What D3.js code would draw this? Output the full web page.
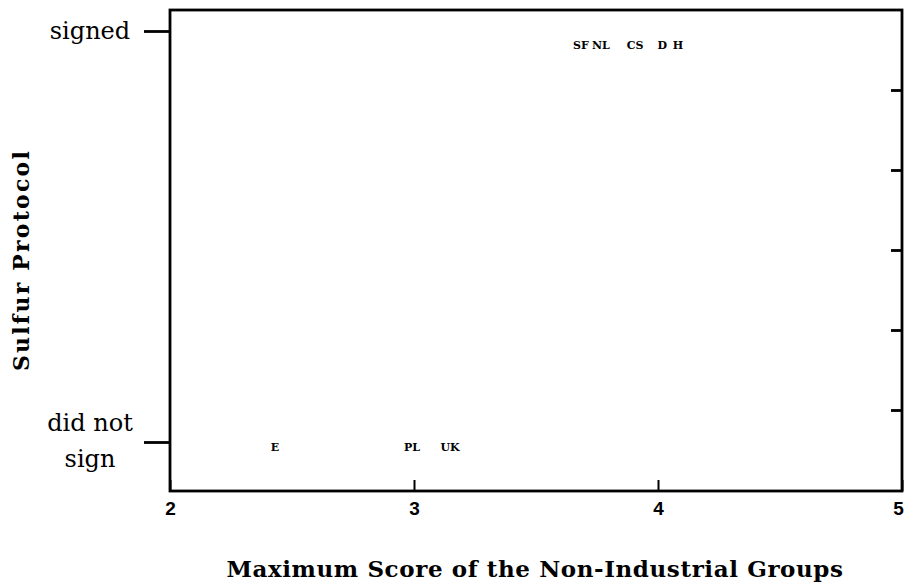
<!DOCTYPE html>
<html>
<head>
<meta charset="utf-8">
<script src="https://cdn.jsdelivr.net/npm/d3@7"></script>
<style>
  body { margin: 0; background: #fff; }
  svg { display: block; }
</style>
</head>
<body>
<script>
"use strict";

// countries and their maximum non-industrial score
const signedCountries = ["SF", "NL", "CS", "D", "H"];
const signedScores = [3.684, 3.766, 3.906, 4.018, 4.082];
const notSignedCountries = ["E", "PL", "UK"];
const notSignedScores = [2.43, 2.992, 3.148];

const xTicks = [2, 3, 4, 5];
const yTicks = [1, 0];
const yTickLabels = { 1: ["signed"], 0: ["did not", "sign"] };
const rightTicks = [1, 2, 3, 4, 5];

const points = signedCountries
  .map((c, i) => ({ name: c, x: signedScores[i], signed: 1 }))
  .concat(notSignedCountries.map((c, i) => ({ name: c, x: notSignedScores[i], signed: 0 })));

const width = 906, height = 584;
const plotLeft = 170, plotRight = 902, plotTop = 10, plotBottom = 491;

let svg = d3
  .select("body")
  .append("svg")
  .attr("width", width)
  .attr("height", height);

const x = d3.scaleLinear().domain([2, 5]).range([plotLeft, plotRight]);
const y = d3.scaleLinear().domain([0, 1]).range([442, 31]);
const yPts = d3.scaleLinear().domain([0, 1]).range([451, 49]);
const yRight = d3.scaleLinear().domain([0, 6]).range([plotBottom - 1, plotTop]);

// frame
svg.append("rect")
  .attr("x", plotLeft)
  .attr("y", plotTop)
  .attr("width", plotRight - plotLeft)
  .attr("height", plotBottom - plotTop)
  .attr("fill", "none")
  .attr("stroke", "#000")
  .attr("stroke-width", 2.8);

// bottom axis, ticks point inward
let xAxis = svg.append("g")
  .attr("transform", `translate(0,${plotBottom})`)
  .call(d3.axisBottom(x).tickValues(xTicks).tickSizeInner(-11).tickSizeOuter(0).tickPadding(11).tickFormat(d3.format("d")));
xAxis.select(".domain").remove();
xAxis.selectAll("line").attr("stroke", "#000").attr("stroke-width", 2);
xAxis.selectAll("text")
  .attr("font-family", "Liberation Sans, Arial, sans-serif")
  .attr("font-weight", "bold")
  .attr("font-size", 19)
  .attr("fill", "#000")
  .attr("dx", d => d === 5 ? -4 : 0);

// left axis, ticks point outward
let yAxis = svg.append("g")
  .attr("transform", `translate(${plotLeft},0)`)
  .call(d3.axisLeft(y).tickValues(yTicks).tickSize(26).tickFormat(""));
yAxis.select(".domain").remove();
yAxis.selectAll("line").attr("stroke", "#000").attr("stroke-width", 2.8);

yTicks.forEach(v => {
  const lines = yTickLabels[v];
  const t = svg.append("text")
    .attr("y", y(v) - (lines.length - 1) * 19)
    .attr("text-anchor", "middle")
    .attr("dominant-baseline", "central")
    .attr("font-family", "DejaVu Serif, serif")
    .attr("font-size", 24)
    .attr("fill", "#000");
  lines.forEach((l, i) => {
    t.append("tspan").attr("x", 90).attr("dy", i === 0 ? 0 : 36).text(l);
  });
});

// right axis, ticks point inward
let rAxis = svg.append("g")
  .attr("transform", `translate(${plotRight},0)`)
  .call(d3.axisRight(yRight).tickValues(rightTicks).tickSize(-11).tickFormat(""));
rAxis.select(".domain").remove();
rAxis.selectAll("line").attr("stroke", "#000").attr("stroke-width", 2.8);

// country labels as markers
svg.append("g")
  .selectAll("text")
  .data(points)
  .enter()
  .append("text")
  .attr("x", d => x(d.x))
  .attr("y", d => yPts(d.signed))
  .attr("text-anchor", "middle")
  .attr("font-family", "DejaVu Serif, serif")
  .attr("font-weight", "bold")
  .attr("font-size", 11)
  .attr("fill", "#000")
  .text(d => d.name);

// axis titles
svg.append("text")
  .attr("x", 535)
  .attr("y", 577)
  .attr("text-anchor", "middle")
  .attr("font-family", "DejaVu Serif, serif")
  .attr("font-weight", "bold")
  .attr("font-size", 23)
  .attr("letter-spacing", 0.6)
  .attr("fill", "#000")
  .text("Maximum Score of the Non-Industrial Groups");

svg.append("text")
  .attr("transform", "translate(29,260) rotate(-90)")
  .attr("text-anchor", "middle")
  .attr("font-family", "DejaVu Serif, serif")
  .attr("font-weight", "bold")
  .attr("font-size", 22)
  .attr("letter-spacing", 2.2)
  .attr("fill", "#000")
  .text("Sulfur Protocol");
</script>
</body>
</html>
